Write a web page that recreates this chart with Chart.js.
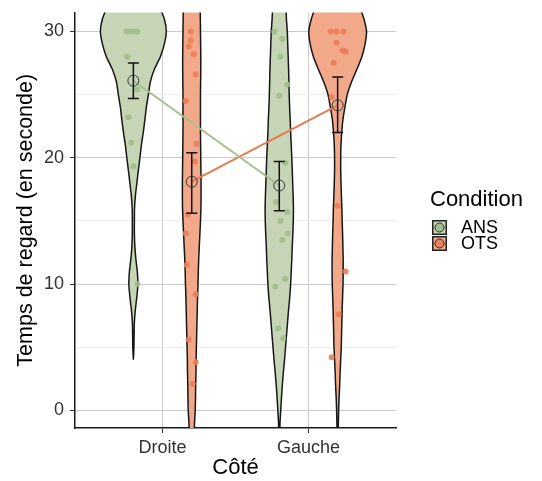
<!DOCTYPE html>
<html>
<head>
<meta charset="utf-8">
<script src="https://cdn.jsdelivr.net/npm/chart.js@4.4.0/dist/chart.umd.min.js"></script>
<style>
  html, body { margin: 0; padding: 0; background: #ffffff; }
  #wrap { width: 542px; height: 481px; position: relative; }
</style>
</head>
<body>
<div id="wrap"><canvas id="violinChart"></canvas></div>
<script>
// Catégories (axe x) et conditions (légende)
const categories = ["Droite", "Gauche"];
const conditions = ["ANS", "OTS"];
const yTicks = [0, 5, 10, 15, 20, 25, 30];

// Niveaux de y où la largeur des violons est lue
const densityLevels = [32, 31, 30, 29, 28, 27, 26, 25, 24, 23, 22, 21, 20, 19, 18, 17, 16,
  15, 14, 13, 12, 11, 10, 9, 8, 7, 6, 5, 4, 3, 2, 1, 0, -1, -2];

// Demi-largeurs des violons (unités de l'axe x), null = hors du violon
const densityAnsDroite = [0.178, 0.212, 0.226, 0.212, 0.185, 0.144, 0.116, 0.103, 0.089, 0.079,
  0.068, 0.055, 0.045, 0.034, 0.024, 0.014, 0.008, 0.007, 0.007, 0.010, 0.017, 0.027, 0.031,
  0.024, 0.014, 0.007, 0.005, 0.004, 0, null, null, null, null, null, null];
const densityOtsDroite = [0.058, 0.059, 0.060, 0.061, 0.062, 0.062, 0.061, 0.060, 0.060, 0.060,
  0.060, 0.061, 0.062, 0.063, 0.064, 0.064, 0.063, 0.060, 0.056, 0.052, 0.048, 0.045, 0.043,
  0.040, 0.038, 0.036, 0.034, 0.032, 0.030, 0.029, 0.027, 0.026, 0.024, 0.019, 0.014];
const densityAnsGauche = [0.045, 0.049, 0.055, 0.058, 0.061, 0.064, 0.066, 0.068, 0.071, 0.075,
  0.078, 0.082, 0.086, 0.089, 0.092, 0.095, 0.097, 0.096, 0.093, 0.089, 0.086, 0.082, 0.078,
  0.072, 0.064, 0.057, 0.050, 0.043, 0.036, 0.028, 0.021, 0.015, 0.010, 0.005, 0.003];
const densityOtsGauche = [0.151, 0.180, 0.198, 0.188, 0.166, 0.132, 0.095, 0.066, 0.050, 0.036,
  0.028, 0.023, 0.021, 0.021, 0.023, 0.026, 0.029, 0.031, 0.034, 0.036, 0.038, 0.038, 0.037,
  0.034, 0.031, 0.029, 0.027, 0.025, 0.021, 0.017, 0.014, 0.010, 0.007, 0.005, 0.003];

// Moyennes et barres d'erreur, une valeur par catégorie
const meanAns = [26.1, 17.8];
const lowAns = [24.7, 15.8];
const highAns = [27.5, 19.7];
const meanOts = [18.1, 24.15];
const lowOts = [15.6, 22.0];
const highOts = [20.4, 26.4];

// Observations individuelles : [décalage jitter, valeur]
const pointsAnsDroite = [[-0.048, 30], [-0.027, 30], [0.0, 30], [0.027, 30], [-0.041, 28],
  [0.027, 25.4], [-0.034, 23.2], [-0.014, 21.2], [0.0, 19.3], [0.027, 10]];
const pointsOtsDroite = [[-0.007, 30], [-0.007, 29.3], [-0.021, 28.8], [0.014, 28.2],
  [0.027, 26.6], [-0.041, 24.5], [0.034, 21.1], [0.021, 19.7], [-0.027, 15.5], [-0.041, 14.0],
  [-0.034, 11.5], [0.027, 9.2], [-0.021, 5.6], [0.027, 3.8], [0.007, 2.1]];
const pointsAnsGauche = [[-0.034, 30], [0.021, 29.4], [0.007, 28], [0.055, 25.8], [0, 24.9],
  [0.041, 19.6], [-0.021, 16.5], [0.055, 15.7], [0.007, 15.0], [0.055, 14.0], [0.021, 13.5],
  [0.041, 10.4], [-0.027, 9.8], [-0.007, 6.5], [0.027, 5.7]];
const pointsOtsGauche = [[-0.048, 30], [-0.007, 30], [0.041, 30], [-0.007, 29.1], [0.034, 28.5],
  [0.055, 28.4], [-0.027, 27.5], [-0.041, 24.8], [0, 16.2], [0.055, 11.0], [0.007, 7.6],
  [-0.041, 4.2]];

const DODGE = 0.2;
const FONT = '"Liberation Sans", Arial, sans-serif';
const colors = {
  ANS: { fill: "#c5d5b6", line: "#a6c08d", dot: "rgba(160,190,136,0.9)" },
  OTS: { fill: "#f1a98a", line: "#e97a50", dot: "rgba(234,125,86,0.9)" },
};

// Construit le contour fermé d'un violon à partir des demi-largeurs
function violinOutline(center, widths) {
  const right = [];
  const left = [];
  densityLevels.forEach((level, i) => {
    const w = widths[i];
    if (w === null) return;
    right.push({ x: center + w, y: level });
    left.unshift({ x: center - w, y: level });
  });
  return right.concat(left);
}

function violinDataset(center, widths, cond) {
  return {
    type: "line",
    data: violinOutline(center, widths),
    borderColor: "#161616",
    borderWidth: 1.5,
    backgroundColor: colors[cond].fill,
    fill: "shape",
    tension: 0.2,
    pointRadius: 0,
    pointHitRadius: 0,
    order: 5,
  };
}

function jitterDataset(center, points, cond) {
  return {
    type: "line",
    showLine: false,
    data: points.map(([dx, v]) => ({ x: center + dx, y: v })),
    pointRadius: 3,
    pointBorderWidth: 0,
    pointBackgroundColor: colors[cond].dot,
    order: 4,
  };
}

function errorDataset(center, low, high) {
  return {
    type: "line",
    data: [{ x: center, y: low }, { x: center, y: high }],
    borderColor: "#111",
    borderWidth: 1.5,
    pointStyle: "line",
    pointRadius: 5.5,
    pointBorderColor: "#111",
    pointBorderWidth: 1.5,
    order: 2,
  };
}

function buildDatasets() {
  const sets = [];
  const groups = [
    { cond: "ANS", shift: -DODGE, dens: [densityAnsDroite, densityAnsGauche], pts: [pointsAnsDroite, pointsAnsGauche], mean: meanAns, low: lowAns, high: highAns },
    { cond: "OTS", shift: DODGE, dens: [densityOtsDroite, densityOtsGauche], pts: [pointsOtsDroite, pointsOtsGauche], mean: meanOts, low: lowOts, high: highOts },
  ];
  groups.forEach((g) => {
    categories.forEach((cat, i) => {
      const center = i + 1 + g.shift;
      sets.push(violinDataset(center, g.dens[i], g.cond));
      sets.push(jitterDataset(center, g.pts[i], g.cond));
      sets.push(errorDataset(center, g.low[i], g.high[i]));
    });
    // ligne reliant les moyennes
    sets.push({
      type: "line",
      data: categories.map((c, i) => ({ x: i + 1 + g.shift, y: g.mean[i] })),
      borderColor: colors[g.cond].line,
      borderWidth: 2,
      pointRadius: 0,
      order: 3,
    });
    // points des moyennes
    sets.push({
      type: "line",
      showLine: false,
      data: categories.map((c, i) => ({ x: i + 1 + g.shift, y: g.mean[i] })),
      pointStyle: "circle",
      pointRadius: 5.5,
      pointBorderWidth: 1,
      pointBorderColor: "#333",
      pointBackgroundColor: "rgba(0,0,0,0)",
      order: 1,
    });
  });
  return sets;
}

// Légende dessinée à droite du graphique
const conditionLegend = {
  id: "conditionLegend",
  afterDraw(chart) {
    const ctx = chart.ctx;
    ctx.save();
    ctx.textBaseline = "middle";
    ctx.fillStyle = "#000";
    ctx.font = "22px " + FONT;
    ctx.fillText("Condition", 430, 200);
    conditions.forEach((cond, i) => {
      const top = 220 + i * 16;
      ctx.fillStyle = colors[cond].fill;
      ctx.fillRect(432, top, 15, 15);
      ctx.strokeStyle = colors[cond].line;
      ctx.lineWidth = 1.5;
      ctx.beginPath();
      ctx.moveTo(433, top + 7.5);
      ctx.lineTo(446, top + 7.5);
      ctx.stroke();
      ctx.strokeStyle = "#222";
      ctx.lineWidth = 1.5;
      ctx.strokeRect(432.75, top + 0.75, 13.5, 13.5);
      ctx.beginPath();
      ctx.arc(439.5, top + 7.5, 4.5, 0, Math.PI * 2);
      ctx.fillStyle = colors[cond].dot;
      ctx.fill();
      ctx.lineWidth = 1;
      ctx.strokeStyle = "#333";
      ctx.stroke();
      ctx.fillStyle = "#000";
      ctx.font = "18px " + FONT;
      ctx.fillText(cond, 461, top + 8);
    });
    ctx.restore();
  },
};

function createViolinChart() {
  const ctx = document.getElementById("violinChart").getContext("2d");
  new Chart(ctx, {
    type: "line",
    data: { datasets: buildDatasets() },
    plugins: [conditionLegend],
    options: {
      responsive: true,
      maintainAspectRatio: false,
      animation: false,
      layout: { padding: { top: 12.5, right: 146, bottom: 0, left: 0 } },
      plugins: { legend: { display: false }, tooltip: { enabled: false } },
      scales: {
        x: {
          type: "linear",
          min: 0.4,
          max: 2.6,
          afterBuildTicks: (scale) => {
            scale.ticks = categories.map((c, i) => ({ value: i + 1 }));
          },
          afterFit: (scale) => { scale.height = 53; },
          ticks: {
            callback: (v) => categories[v - 1] || "",
            color: "#333",
            font: { family: FONT, size: 18 },
            padding: 4,
          },
          grid: { color: "#cbcbcb", lineWidth: 1, tickLength: 5, tickColor: "#333" },
          border: { display: true, color: "#1a1a1a", width: 1.5 },
          title: {
            display: true,
            text: "Côté",
            color: "#000",
            font: { family: FONT, size: 22 },
            padding: { top: 0, bottom: 0 },
          },
        },
        y: {
          min: -1.4,
          max: 31.5,
          afterBuildTicks: (scale) => {
            scale.ticks = yTicks.map((v) => ({ value: v }));
          },
          afterFit: (scale) => {
            scale.width = 75;
            // pas de marge supplémentaire pour les étiquettes en haut/bas
            scale.paddingTop = 0;
            scale.paddingBottom = 0;
          },
          ticks: {
            callback: (v) => (v % 10 === 0 ? v : ""),
            color: "#333",
            font: { family: FONT, size: 18 },
            padding: 6,
          },
          grid: {
            color: (c) => (c.tick && c.tick.value % 10 === 0 ? "#cbcbcb" : "#ececec"),
            tickColor: (c) => (c.tick && c.tick.value % 10 === 0 ? "#333" : "rgba(0,0,0,0)"),
            lineWidth: 1,
            tickLength: 5,
          },
          border: { display: true, color: "#1a1a1a", width: 1.5 },
          title: {
            display: true,
            text: "Temps de regard (en seconde)",
            color: "#000",
            font: { family: FONT, size: 21.5 },
            padding: { top: 13, bottom: 0 },
          },
        },
      },
    },
  });
}

createViolinChart();
</script>
</body>
</html>
